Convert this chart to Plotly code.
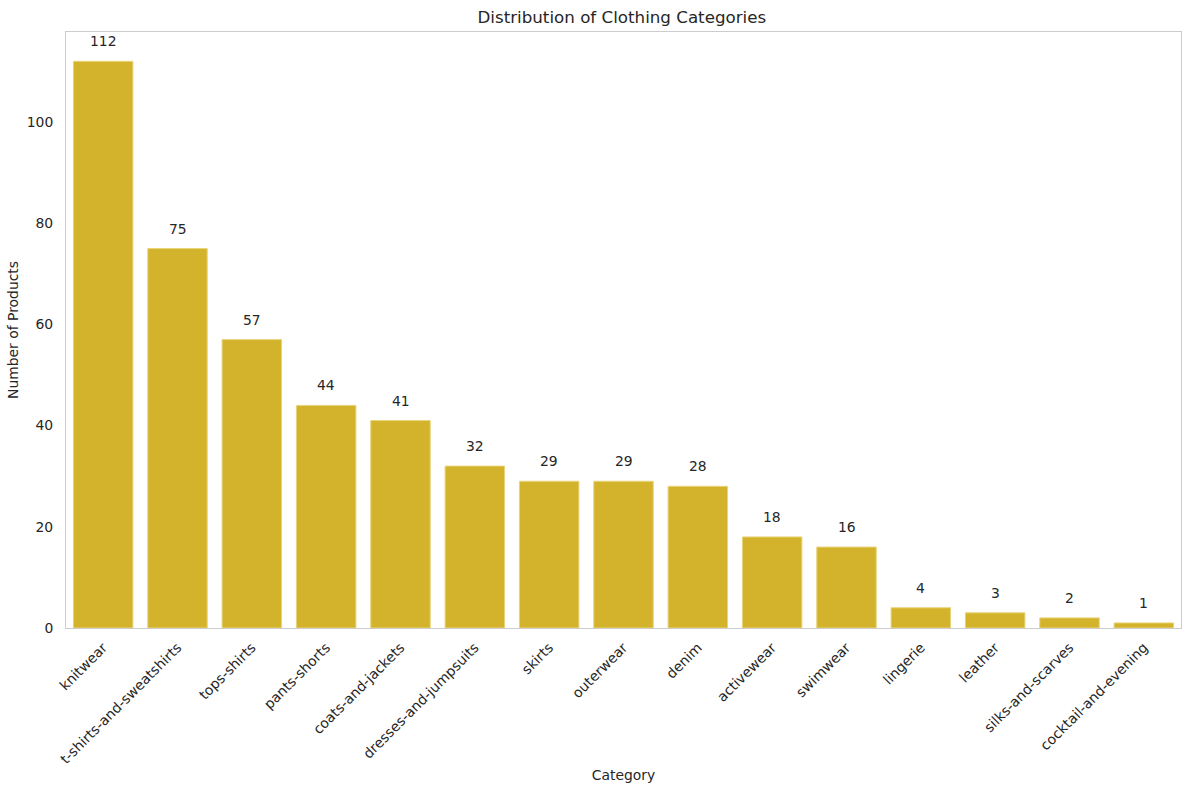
import plotly.graph_objects as go

# category counts
categories = ['knitwear', 't-shirts-and-sweatshirts', 'tops-shirts', 'pants-shorts',
              'coats-and-jackets', 'dresses-and-jumpsuits', 'skirts', 'outerwear',
              'denim', 'activewear', 'swimwear', 'lingerie', 'leather',
              'silks-and-scarves', 'cocktail-and-evening']
counts = [112, 75, 57, 44, 41, 32, 29, 29, 28, 18, 16, 4, 3, 2, 1]
y_ticks = [0, 20, 40, 60, 80, 100]

font = "DejaVu Sans, sans-serif"
ink = "#262626"
fs = 13.9

fig = go.Figure()
fig.add_trace(go.Bar(
    x=categories, y=counts, width=0.8,
    marker=dict(color="#D4B32C", line=dict(color="#E8D47A", width=1)),
    hoverinfo="x+y",
))

# value labels above each bar
for c, v in zip(categories, counts):
    fig.add_annotation(x=c, y=v, text=str(v), showarrow=False,
                       yanchor="bottom", yshift=10,
                       font=dict(family=font, size=fs, color=ink))

fig.update_layout(
    width=1189, height=790,
    paper_bgcolor="white", plot_bgcolor="white",
    margin=dict(l=66, r=8, t=32, b=162),
    showlegend=False,
    bargap=0.2,
    title=dict(text="Distribution of Clothing Categories", x=0.523, xanchor="center",
               y=0.978, yanchor="middle", font=dict(family=font, size=16.7, color=ink)),
    font=dict(family=font, size=fs, color=ink),
)
fig.update_xaxes(
    range=[-0.5, len(categories) - 0.5], tickangle=-45, showgrid=False,
    showline=True, linecolor="#CCCCCC", linewidth=1, mirror=True, ticks="",
    ticklabelstandoff=5,
    tickfont=dict(family=font, size=fs, color=ink),
    title=dict(text="Category", font=dict(family=font, size=fs, color=ink), standoff=4),
)
fig.update_yaxes(
    range=[0, 117.8], tickvals=y_ticks, showgrid=False, zeroline=False,
    showline=True, linecolor="#CCCCCC", linewidth=1, mirror=True, ticks="",
    ticklabelstandoff=9,
    tickfont=dict(family=font, size=fs, color=ink),
    title=dict(text="Number of Products", font=dict(family=font, size=fs, color=ink), standoff=4),
)

fig.write_html("out.html", config={"displayModeBar": False},
               post_script="document.body.style.margin='0';")
